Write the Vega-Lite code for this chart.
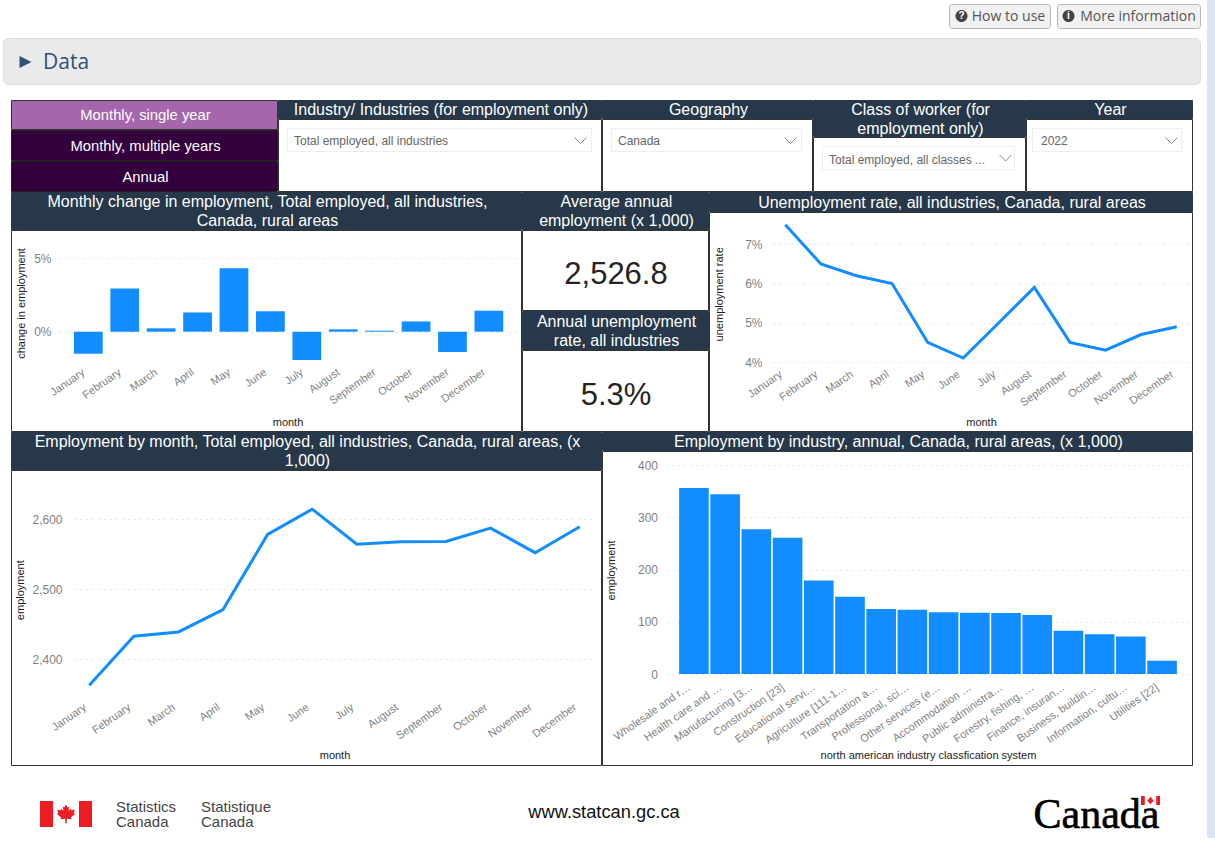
{"$schema":"https://vega.github.io/schema/vega-lite/v6.json","padding":0,"background":"#ffffff","spacing":0,"config":{"font":"Liberation Sans","concat":{"spacing":0},"view":{"stroke":null},"axis":{"domain":false,"ticks":false,"labelColor":"#7f7f7f","labelFontSize":12,"labelFont":"Liberation Sans","titleFont":"Liberation Sans","titleColor":"#222222","titleFontSize":11,"titleFontWeight":"normal","titleBaseline":"middle","gridDash":[1,5],"gridColor":"#cccccc","labelOverlap":false,"labelPadding":2},"axisX":{"grid":false,"labelAngle":-35,"labelAlign":"right","labelBaseline":"top","labelFontSize":11,"labelOffset":-8},"axisY":{"grid":true},"text":{"color":"#ffffff","fontSize":16,"lineBreak":"\n","lineHeight":19,"dx":1.5,"dy":1}},"datasets":{"months":[{"month":"January","change":-0.015,"rate":0.075,"employment":2363},{"month":"February","change":0.0295,"rate":0.065,"employment":2433},{"month":"March","change":0.0023,"rate":0.062,"employment":2439},{"month":"April","change":0.0131,"rate":0.06,"employment":2471},{"month":"May","change":0.0433,"rate":0.045,"employment":2578},{"month":"June","change":0.014,"rate":0.041,"employment":2614},{"month":"July","change":-0.0193,"rate":0.05,"employment":2564},{"month":"August","change":0.0016,"rate":0.059,"employment":2567.5},{"month":"September","change":0.0007,"rate":0.045,"employment":2568},{"month":"October","change":0.007,"rate":0.043,"employment":2587},{"month":"November","change":-0.0138,"rate":0.047,"employment":2552},{"month":"December","change":0.0143,"rate":0.049,"employment":2589}],"industries":[{"industry":"Wholesale and r…","employment":356},{"industry":"Health care and …","employment":344},{"industry":"Manufacturing [3…","employment":277},{"industry":"Construction [23]","employment":261},{"industry":"Educational servi…","employment":179},{"industry":"Agriculture [111-1…","employment":148},{"industry":"Transportation a…","employment":124.4},{"industry":"Professional, sci…","employment":123},{"industry":"Other services (e…","employment":118},{"industry":"Accommodation …","employment":117.4},{"industry":"Public administra…","employment":116.8},{"industry":"Forestry, fishing, …","employment":113},{"industry":"Finance, insuran…","employment":83},{"industry":"Business, buildin…","employment":76},{"industry":"Information, cultu…","employment":72},{"industry":"Utilities [22]","employment":25.5}]},"vconcat":[{"spacing":0,"hconcat":[{"spacing":0,"vconcat":[{"width":1207,"height":3,"data":{"values":[{}]},"mark":{"type":"rect","opacity":0}},{"spacing":0,"hconcat":[{"width":948,"height":1,"data":{"values":[{}]},"mark":{"type":"rect","opacity":0}},{"width":101,"height":24,"view":{"fill":"#f1f1f1","stroke":"#b5b5b5","cornerRadius":3},"data":{"values":[{"label":"How to use","glyph":"?"}]},"layer":[{"mark":{"type":"point","filled":true,"opacity":1,"size":10404,"color":"#444444","shape":"M-0.863,0A0.118,0.118 0 1,1 -0.627,0A0.118,0.118 0 1,1 -0.863,0Z"}},{"mark":{"type":"text","font":"Liberation Sans","fontSize":10,"fontWeight":"bold","color":"#ffffff","dx":-38,"dy":0},"encoding":{"text":{"field":"glyph","type":"nominal"}}},{"mark":{"type":"text","font":"Open Sans","fontSize":14,"color":"#555555","dx":9,"dy":1},"encoding":{"text":{"field":"label","type":"nominal"}}}]},{"width":5,"height":1,"data":{"values":[{}]},"mark":{"type":"rect","opacity":0}},{"width":143,"height":24,"view":{"fill":"#f1f1f1","stroke":"#b5b5b5","cornerRadius":3},"data":{"values":[{"label":"More information","glyph":"i"}]},"layer":[{"mark":{"type":"point","filled":true,"opacity":1,"size":20736,"color":"#444444","shape":"M-0.917,0A0.083,0.083 0 1,1 -0.75,0A0.083,0.083 0 1,1 -0.917,0Z"}},{"mark":{"type":"text","font":"Liberation Sans","fontSize":10,"fontWeight":"bold","color":"#ffffff","dx":-60,"dy":0},"encoding":{"text":{"field":"glyph","type":"nominal"}}},{"mark":{"type":"text","font":"Open Sans","fontSize":14,"color":"#555555","dx":9.5,"dy":1},"encoding":{"text":{"field":"label","type":"nominal"}}}]},{"width":6,"height":1,"data":{"values":[{}]},"mark":{"type":"rect","opacity":0}}]},{"width":1207,"height":8,"data":{"values":[{}]},"mark":{"type":"rect","opacity":0}},{"spacing":0,"hconcat":[{"width":2,"height":1,"data":{"values":[{}]},"mark":{"type":"rect","opacity":0}},{"width":1197,"height":46,"view":{"fill":"#e9eaec","stroke":"#dddddd","cornerRadius":5},"data":{"values":[{"label":"Data"}]},"layer":[{"mark":{"type":"point","filled":true,"opacity":1,"size":1435204,"color":"#335075","shape":"M-0.9716,-0.0083L-0.9516,0.0017L-0.9716,0.0117Z"}},{"mark":{"type":"text","font":"Open Sans","fontSize":21,"color":"#335075","align":"left","x":40,"dx":0,"dy":2},"encoding":{"text":{"field":"label","type":"nominal"}}}]},{"width":6,"height":1,"data":{"values":[{}]},"mark":{"type":"rect","opacity":0}}]},{"width":1207,"height":14,"data":{"values":[{}]},"mark":{"type":"rect","opacity":0}},{"spacing":0,"hconcat":[{"width":10,"height":1,"data":{"values":[{}]},"mark":{"type":"rect","opacity":0}},{"spacing":-1,"vconcat":[{"spacing":-1,"hconcat":[{"spacing":-1,"vconcat":[{"width":266,"height":29,"view":{"fill":"#a566ab","stroke":"#333333"},"data":{"values":[{"t":"Monthly, single year"}]},"mark":{"type":"text","fontSize":14.8,"dy":1.5},"encoding":{"text":{"field":"t","type":"nominal"}}},{"width":266,"height":30,"view":{"fill":"#33003d","stroke":"#222222"},"data":{"values":[{"t":"Monthly, multiple years"}]},"mark":{"type":"text","fontSize":14.8,"dy":1.5},"encoding":{"text":{"field":"t","type":"nominal"}}},{"width":266,"height":30,"view":{"fill":"#33003d","stroke":"#222222"},"data":{"values":[{"t":"Annual"}]},"mark":{"type":"text","fontSize":14.8,"dy":1.5},"encoding":{"text":{"field":"t","type":"nominal"}}}]},{"spacing":-1,"vconcat":[{"width":323,"height":18,"view":{"fill":"#263849","stroke":"#263849"},"data":{"values":[{"t":"Industry/ Industries (for employment only)"}]},"mark":"text","encoding":{"text":{"field":"t","type":"nominal"}}},{"width":323,"height":72,"view":{"fill":"#ffffff","stroke":"#333333"},"data":{"values":[{"t":"Total employed, all industries"}]},"layer":[{"mark":{"type":"point","filled":false,"opacity":1,"size":104976,"stroke":"#eeeeee","strokeWidth":1,"shape":"M-0.938,-0.1636H0.938V-0.0216H-0.938Z"}},{"mark":{"type":"point","filled":false,"opacity":1,"size":104976,"stroke":"#888888","strokeWidth":1,"shape":"M0.8333,-0.108L0.8704,-0.071L0.9074,-0.108"}},{"mark":{"type":"text","fontSize":12,"color":"#666666","align":"left","x":16,"y":22,"dx":0,"dy":0},"encoding":{"text":{"field":"t","type":"nominal"}}}]}]},{"spacing":-1,"vconcat":[{"width":210,"height":18,"view":{"fill":"#263849","stroke":"#263849"},"data":{"values":[{"t":"Geography"}]},"mark":"text","encoding":{"text":{"field":"t","type":"nominal"}}},{"width":210,"height":72,"view":{"fill":"#ffffff","stroke":"#333333"},"data":{"values":[{"t":"Canada"}]},"layer":[{"mark":{"type":"point","filled":false,"opacity":1,"size":44521,"stroke":"#eeeeee","strokeWidth":1,"shape":"M-0.905,-0.2512H0.896V-0.0332H-0.905Z"}},{"mark":{"type":"point","filled":false,"opacity":1,"size":44521,"stroke":"#888888","strokeWidth":1,"shape":"M0.7346,-0.1659L0.7915,-0.109L0.8483,-0.1659"}},{"mark":{"type":"text","fontSize":12,"color":"#666666","align":"left","x":16,"y":22,"dx":0,"dy":0},"encoding":{"text":{"field":"t","type":"nominal"}}}]}]},{"spacing":-1,"vconcat":[{"width":212,"height":36,"view":{"fill":"#263849","stroke":"#263849"},"data":{"values":[{"t":"Class of worker (for\nemployment only)"}]},"mark":{"type":"text","dy":-8.5},"encoding":{"text":{"field":"t","type":"nominal"}}},{"width":212,"height":54,"view":{"fill":"#ffffff","stroke":"#333333"},"data":{"values":[{"t":"Total employed, all classes ..."}]},"layer":[{"mark":{"type":"point","filled":false,"opacity":1,"size":45369,"stroke":"#eeeeee","strokeWidth":1,"shape":"M-0.906,-0.1643H0.8967V0.0516H-0.906Z"}},{"mark":{"type":"point","filled":false,"opacity":1,"size":45369,"stroke":"#888888","strokeWidth":1,"shape":"M0.7559,-0.0845L0.8122,-0.0282L0.8685,-0.0845"}},{"mark":{"type":"text","fontSize":12,"color":"#666666","align":"left","x":16,"y":22.5,"dx":0,"dy":0},"encoding":{"text":{"field":"t","type":"nominal"}}}]}]},{"spacing":-1,"vconcat":[{"width":166,"height":18,"view":{"fill":"#263849","stroke":"#263849"},"data":{"values":[{"t":"Year"}]},"mark":"text","encoding":{"text":{"field":"t","type":"nominal"}}},{"width":166,"height":72,"view":{"fill":"#ffffff","stroke":"#333333"},"data":{"values":[{"t":"2022"}]},"layer":[{"mark":{"type":"point","filled":false,"opacity":1,"size":27889,"stroke":"#eeeeee","strokeWidth":1,"shape":"M-0.916,-0.3174H0.868V-0.0419H-0.916Z"}},{"mark":{"type":"point","filled":false,"opacity":1,"size":27889,"stroke":"#888888","strokeWidth":1,"shape":"M0.6766,-0.2096L0.7485,-0.1377L0.8204,-0.2096"}},{"mark":{"type":"text","fontSize":12,"color":"#666666","align":"left","x":15,"y":22,"dx":0,"dy":0},"encoding":{"text":{"field":"t","type":"nominal"}}}]}]}]},{"spacing":-1,"hconcat":[{"spacing":-1,"vconcat":[{"width":510,"height":37,"view":{"fill":"#263849","stroke":"#263849"},"data":{"values":[{"t":"Monthly change in employment, Total employed, all industries,\nCanada, rural areas"}]},"mark":{"type":"text","dy":-8.5},"encoding":{"text":{"field":"t","type":"nominal"}}},{"width":510,"height":201,"view":{"fill":"#ffffff","stroke":"#333333"},"data":{"name":"months"},"mark":{"type":"bar","color":"#118dff"},"encoding":{"x":{"field":"month","type":"nominal","scale":{"type":"band","domain":["January","February","March","April","May","June","July","August","September","October","November","December"],"range":[48,505],"paddingInner":0.21,"paddingOuter":0.38,"align":0.54},"axis":{"title":"month","offset":-67,"titleY":58}},"y":{"field":"change","type":"quantitative","scale":{"domain":[0,0.05],"range":[101.7,28.3],"nice":false},"axis":{"title":"change in employment","values":[0,0.05],"format":".0%","offset":-42,"titleX":-32,"titleY":73}}}}]},{"spacing":-1,"vconcat":[{"width":186,"height":37,"view":{"fill":"#263849","stroke":"#263849"},"data":{"values":[{"t":"Average annual\nemployment (x 1,000)"}]},"mark":{"type":"text","dy":-8.5},"encoding":{"text":{"field":"t","type":"nominal"}}},{"width":186,"height":80,"view":{"fill":"#ffffff","stroke":"#333333"},"data":{"values":[{"t":"2,526.8"}]},"mark":{"type":"text","fontSize":31,"color":"#252423","dy":5,"dx":1},"encoding":{"text":{"field":"t","type":"nominal"}}},{"width":186,"height":38,"view":{"fill":"#263849","stroke":"#263849"},"data":{"values":[{"t":"Annual unemployment\nrate, all industries"}]},"mark":{"type":"text","dy":-8.5},"encoding":{"text":{"field":"t","type":"nominal"}}},{"width":186,"height":81,"view":{"fill":"#ffffff","stroke":"#333333"},"data":{"values":[{"t":"5.3%"}]},"mark":{"type":"text","fontSize":31,"color":"#252423","dy":5,"dx":1},"encoding":{"text":{"field":"t","type":"nominal"}}}]},{"spacing":-1,"vconcat":[{"width":483,"height":19,"view":{"fill":"#263849","stroke":"#263849"},"data":{"values":[{"t":"Unemployment rate, all industries, Canada, rural areas"}]},"mark":"text","encoding":{"text":{"field":"t","type":"nominal"}}},{"width":483,"height":219,"view":{"fill":"#ffffff","stroke":"#333333"},"data":{"name":"months"},"mark":{"type":"line","color":"#118dff","strokeWidth":3},"encoding":{"x":{"field":"month","type":"nominal","scale":{"type":"point","domain":["January","February","March","April","May","June","July","August","September","October","November","December"],"range":[64,480],"padding":0.345},"axis":{"title":"month","offset":-65,"titleY":56}},"y":{"field":"rate","type":"quantitative","scale":{"domain":[0.04,0.07],"range":[150,32.3],"nice":false,"zero":false},"axis":{"title":"unemployment rate","values":[0.04,0.05,0.06,0.07],"format":".0%","offset":-55,"titleX":-44.5,"titleY":81.8}}}}]}]},{"spacing":-1,"hconcat":[{"spacing":-1,"vconcat":[{"width":590,"height":37,"view":{"fill":"#263849","stroke":"#263849"},"data":{"values":[{"t":"Employment by month, Total employed, all industries, Canada, rural areas, (x\n1,000)"}]},"mark":{"type":"text","dy":-8.5},"encoding":{"text":{"field":"t","type":"nominal"}}},{"width":590,"height":295,"view":{"fill":"#ffffff","stroke":"#333333"},"data":{"name":"months"},"mark":{"type":"line","color":"#118dff","strokeWidth":3},"encoding":{"x":{"field":"month","type":"nominal","scale":{"type":"point","domain":["January","February","March","April","May","June","July","August","September","October","November","December"],"range":[63,584],"padding":0.343},"axis":{"title":"month","offset":-66,"titleY":56}},"y":{"field":"employment","type":"quantitative","scale":{"domain":[2400,2600],"range":[189.3,49],"nice":false,"zero":false},"axis":{"title":"employment","values":[2400,2500,2600],"format":",.0f","offset":-53,"titleX":-44,"titleY":119.7}}}}]},{"spacing":-1,"vconcat":[{"width":590,"height":18,"view":{"fill":"#263849","stroke":"#263849"},"data":{"values":[{"t":"Employment by industry, annual, Canada, rural areas, (x 1,000)"}]},"mark":"text","encoding":{"text":{"field":"t","type":"nominal"}}},{"width":590,"height":314,"view":{"fill":"#ffffff","stroke":"#333333"},"data":{"name":"industries"},"mark":{"type":"bar","color":"#118dff"},"encoding":{"x":{"field":"industry","type":"nominal","scale":{"type":"band","domain":["Wholesale and r…","Health care and …","Manufacturing [3…","Construction [23]","Educational servi…","Agriculture [111-1…","Transportation a…","Professional, sci…","Other services (e…","Accommodation …","Public administra…","Forestry, fishing, …","Finance, insuran…","Business, buildin…","Information, cultu…","Utilities [22]"],"range":[64,588],"paddingInner":0.05,"paddingOuter":0.42},"axis":{"title":"north american industry classfication system","offset":-86,"titleY":76}},"y":{"field":"employment","type":"quantitative","scale":{"domain":[0,400],"range":[223,14],"nice":false},"axis":{"title":"employment","values":[0,100,200,300,400],"offset":-57.5,"titleX":-48,"titleY":119}}}}]}]}]},{"width":14,"height":1,"data":{"values":[{}]},"mark":{"type":"rect","opacity":0}}]},{"width":1207,"height":28,"data":{"values":[{}]},"mark":{"type":"rect","opacity":0}},{"spacing":0,"hconcat":[{"width":40,"height":36,"data":{"values":[{}]},"mark":{"type":"rect","opacity":0}},{"width":52,"height":36,"data":{"values":[{}]},"mark":{"type":"point","filled":true,"opacity":1,"size":2704,"color":"#ed1c24","shape":"M-1,-0.5H-0.5V0.5H-1ZM0.5,-0.5H1V0.5H0.5ZM0,-0.37L0.063,-0.252L0.122,-0.289L0.096,-0.122L0.178,-0.204L0.207,-0.141L0.34,-0.159L0.296,-0.037L0.352,0L0.185,0.13L0.215,0.204L0.03,0.185L0.03,0.352L-0.03,0.352L-0.03,0.185L-0.215,0.204L-0.185,0.13L-0.352,0L-0.296,-0.037L-0.34,-0.159L-0.207,-0.141L-0.178,-0.204L-0.096,-0.122L-0.122,-0.289L-0.063,-0.252Z"}},{"width":24,"height":36,"data":{"values":[{}]},"mark":{"type":"rect","opacity":0}},{"width":85,"height":36,"data":{"values":[{"t":"Statistics\nCanada"}]},"mark":{"type":"text","fontSize":15,"lineHeight":15,"color":"#444444","align":"left","x":0,"dx":0,"dy":-7.5},"encoding":{"text":{"field":"t","type":"nominal"}}},{"width":202,"height":36,"data":{"values":[{"t":"Statistique\nCanada"}]},"mark":{"type":"text","fontSize":15,"lineHeight":15,"color":"#444444","align":"left","x":0,"dx":0,"dy":-7.5},"encoding":{"text":{"field":"t","type":"nominal"}}},{"width":400,"height":36,"data":{"values":[{"t":"www.statcan.gc.ca"}]},"mark":{"type":"text","fontSize":18.3,"color":"#111111","dx":1,"dy":-1},"encoding":{"text":{"field":"t","type":"nominal"}}},{"width":230,"height":36,"data":{"values":[{}]},"mark":{"type":"rect","opacity":0}},{"width":127,"height":36,"data":{"values":[{"t":"Canada"}]},"layer":[{"mark":{"type":"text","font":"Liberation Serif","fontSize":42,"color":"#000000","stroke":"#000000","strokeWidth":0.6,"baseline":"alphabetic","dx":0,"dy":14},"encoding":{"text":{"field":"t","type":"nominal"}}},{"mark":{"type":"point","filled":true,"opacity":1,"size":16129,"color":"#ed1c24","shape":"M0.7,-0.283H0.76V-0.142H0.7ZM0.94,-0.283H1V-0.142H0.94ZM0.85,-0.27L0.9,-0.21L0.85,-0.155L0.8,-0.21Z"}}]},{"width":47,"height":36,"data":{"values":[{}]},"mark":{"type":"rect","opacity":0}}]},{"width":1207,"height":5,"data":{"values":[{}]},"mark":{"type":"rect","opacity":0}}]},{"width":8,"height":838,"data":{"values":[{}]},"mark":{"type":"rect","color":"#dbe4f5"}}]},{"width":1215,"height":3,"data":{"values":[{}]},"mark":{"type":"rect","color":"#dbe4f5"}}]}
